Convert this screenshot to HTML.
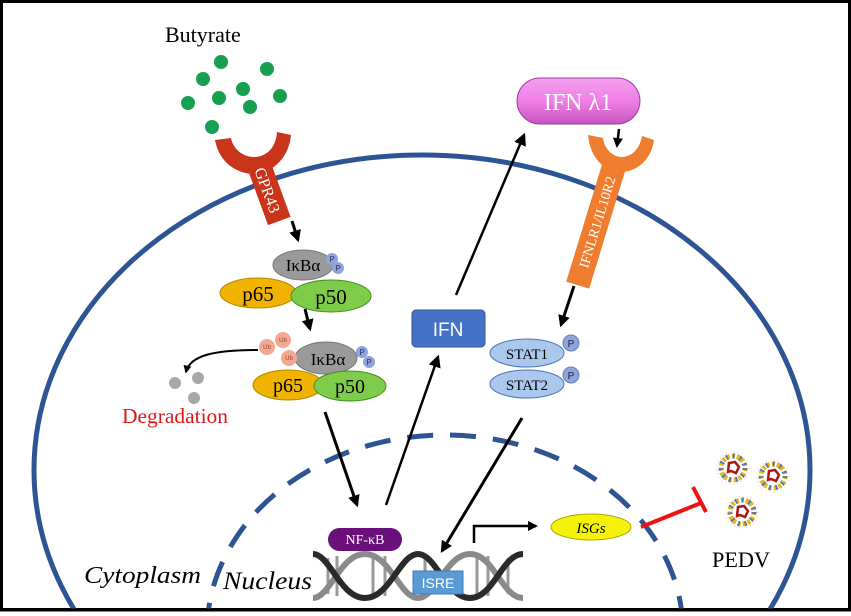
<!DOCTYPE html>
<html><head><meta charset="utf-8"><style>
html,body{margin:0;padding:0;background:#fff;width:851px;height:616px;overflow:hidden}
svg{display:block;overflow:hidden}
.s{font-family:"Liberation Serif",serif}
.a{font-family:"Liberation Sans",sans-serif}
</style></head><body>
<svg width="851" height="616" viewBox="0 0 851 616" xmlns="http://www.w3.org/2000/svg">
<defs>
<clipPath id="cp"><rect x="0" y="0" width="851" height="610"/></clipPath>
<marker id="ah" viewBox="0 0 10 10" refX="8" refY="5" markerWidth="5" markerHeight="5" orient="auto"><path d="M0,0 L10,5 L0,10 z" fill="#000"/></marker>
<marker id="ah2" viewBox="0 0 10 10" refX="8" refY="5" markerWidth="4" markerHeight="4" orient="auto"><path d="M0,0 L10,5 L0,10 z" fill="#000"/></marker>
<linearGradient id="pk" x1="0" y1="0" x2="0" y2="1"><stop offset="0" stop-color="#f6a0f0"/><stop offset="0.5" stop-color="#ee7fe6"/><stop offset="1" stop-color="#c855c0"/></linearGradient>
<g id="vir">
<circle r="16" fill="none" stroke="#f4c6c6" stroke-width="1" stroke-dasharray="1 3"/>
<circle r="12" fill="none" stroke="#e6b820" stroke-width="5" stroke-dasharray="3 2"/>
<circle r="12" fill="none" stroke="#5b79a8" stroke-width="5" stroke-dasharray="2 5"/>
<circle r="9" fill="#fff"/>
<path d="M-5,4 L-4,-5 L2,-6 L6,-1 L3,5 L-2,3 z" fill="none" stroke="#b01515" stroke-width="2.5"/>
</g>
</defs>
<rect x="1.5" y="1.5" width="848" height="608" fill="#fff" stroke="#000" stroke-width="3"/>
<g clip-path="url(#cp)">
<ellipse cx="422" cy="470" rx="388" ry="315" fill="none" stroke="#2e5593" stroke-width="5"/>
<ellipse cx="445" cy="632" rx="238" ry="197" fill="none" stroke="#2e5593" stroke-width="5" stroke-dasharray="26 17"/>
</g>
<line x1="0" y1="610" x2="851" y2="610" stroke="#000" stroke-width="3"/>

<text x="165" y="42" class="s" font-size="22">Butyrate</text>
<g fill="#17a050">
<circle cx="221" cy="62" r="7"/><circle cx="267" cy="69" r="7"/><circle cx="203" cy="79" r="7"/><circle cx="243" cy="89" r="7"/>
<circle cx="188" cy="103" r="7"/><circle cx="219" cy="98" r="7"/><circle cx="280" cy="96" r="7"/><circle cx="250" cy="107" r="7"/><circle cx="212" cy="127" r="7"/>
</g>
<path d="M215,140 C219,162 236,174 255,174 C274,172 289,157 291,135 L277,132 C276,148 266,157 254,157 C243,157 233,149 231,138 z" fill="#c9341a"/>
<g transform="translate(268,190) rotate(70)"><rect x="-33" y="-12" width="66" height="24" fill="#c9341a"/><text x="0" y="6" text-anchor="middle" class="s" font-size="16" fill="#fff">GPR43</text></g>
<line x1="292" y1="221" x2="298" y2="240" stroke="#000" stroke-width="3" marker-end="url(#ah2)"/>
<ellipse cx="303" cy="265" rx="30" ry="15" fill="#9a9a9a" stroke="#777"/>
<text x="303" y="271" text-anchor="middle" class="s" font-size="17">IκBα</text>
<circle cx="332" cy="259" r="6" fill="#8fa3dc"/><circle cx="338" cy="268" r="6" fill="#8fa3dc"/>
<text x="332" y="262" text-anchor="middle" class="a" font-size="8" fill="#335">P</text><text x="338" y="271" text-anchor="middle" class="a" font-size="8" fill="#335">P</text>
<ellipse cx="258" cy="293" rx="38" ry="15" fill="#f0b400" stroke="#b58800"/>
<text x="258" y="301" text-anchor="middle" class="s" font-size="21">p65</text>
<ellipse cx="331" cy="296" rx="40" ry="16" fill="#7fcc4a" stroke="#3f8f22"/>
<text x="331" y="304" text-anchor="middle" class="s" font-size="21">p50</text>
<line x1="305" y1="309" x2="310" y2="329" stroke="#000" stroke-width="3" marker-end="url(#ah2)"/>
<ellipse cx="326" cy="358" rx="31" ry="16" fill="#9a9a9a" stroke="#777"/>
<text x="328" y="365" text-anchor="middle" class="s" font-size="17">IκBα</text>
<circle cx="267" cy="347" r="8" fill="#f4a890"/><circle cx="283" cy="340" r="8" fill="#f4a890"/><circle cx="289" cy="358" r="8" fill="#f4a890"/>
<g class="a" font-size="6" fill="#844" text-anchor="middle"><text x="267" y="349">Ub</text><text x="283" y="342">Ub</text><text x="289" y="360">Ub</text></g>
<circle cx="362" cy="352" r="6" fill="#8fa3dc"/><circle cx="369" cy="362" r="6" fill="#8fa3dc"/>
<text x="362" y="355" text-anchor="middle" class="a" font-size="8" fill="#335">P</text><text x="369" y="365" text-anchor="middle" class="a" font-size="8" fill="#335">P</text>
<ellipse cx="288" cy="385" rx="35" ry="15" fill="#f0b400" stroke="#b58800"/>
<text x="288" y="392" text-anchor="middle" class="s" font-size="20">p65</text>
<ellipse cx="350" cy="386" rx="36" ry="15" fill="#7fcc4a" stroke="#3f8f22"/>
<text x="350" y="393" text-anchor="middle" class="s" font-size="20">p50</text>
<path d="M258,350 C215,350 190,355 186,372" fill="none" stroke="#000" stroke-width="2" marker-end="url(#ah2)"/>
<circle cx="175" cy="383" r="6" fill="#a8a8a8"/><circle cx="198" cy="378" r="6" fill="#a8a8a8"/><circle cx="194" cy="398" r="6" fill="#a8a8a8"/>
<text x="122" y="423" class="s" font-size="21" fill="#e01818" textLength="106" lengthAdjust="spacingAndGlyphs">Degradation</text>
<line x1="325" y1="412" x2="357" y2="505" stroke="#000" stroke-width="3" marker-end="url(#ah2)"/>
<rect x="517" y="78" width="123" height="46" rx="23" fill="url(#pk)" stroke="#a03a9a"/>
<text x="578" y="110" text-anchor="middle" class="s" font-size="24" fill="#fff">IFN λ1</text>
<line x1="456" y1="295" x2="524" y2="135" stroke="#000" stroke-width="2.5" marker-end="url(#ah)"/>
<path d="M588,135 C590,157 604,172 620,172 C640,172 652,156 654,140 L642,136 C640,148 632,157 622,157 C612,157 604,148 603,138 z" fill="#ee7d30"/>
<g transform="translate(597,222) rotate(-73)"><rect x="-66" y="-12" width="132" height="24" fill="#ee7d30"/><text x="0" y="5" text-anchor="middle" class="s" font-size="14" fill="#fff">IFNLR1/IL10R2</text></g>
<line x1="619" y1="129" x2="617" y2="146" stroke="#000" stroke-width="2.5" marker-end="url(#ah2)"/>
<line x1="574" y1="286" x2="561" y2="325" stroke="#000" stroke-width="3" marker-end="url(#ah2)"/>
<rect x="412" y="310" width="73" height="37" rx="4" fill="#4472c4" stroke="#2f5597"/>
<text x="448" y="336" text-anchor="middle" class="a" font-size="19" fill="#fff">IFN</text>
<line x1="386" y1="505" x2="438" y2="357" stroke="#000" stroke-width="2.5" marker-end="url(#ah)"/>
<ellipse cx="527" cy="353" rx="37" ry="14" fill="#a9c8ec" stroke="#4a78b0"/>
<text x="527" y="359" text-anchor="middle" class="s" font-size="15">STAT1</text>
<circle cx="571" cy="343" r="8" fill="#8fa3dc" stroke="#6a7fc0"/><text x="571" y="347" text-anchor="middle" class="a" font-size="10" fill="#223">P</text>
<ellipse cx="527" cy="384" rx="37" ry="14" fill="#a9c8ec" stroke="#4a78b0"/>
<text x="527" y="390" text-anchor="middle" class="s" font-size="15">STAT2</text>
<circle cx="571" cy="375" r="8" fill="#8fa3dc" stroke="#6a7fc0"/><text x="571" y="379" text-anchor="middle" class="a" font-size="10" fill="#223">P</text>
<line x1="522" y1="418" x2="442" y2="551" stroke="#000" stroke-width="3" marker-end="url(#ah2)"/>
<rect x="328" y="528" width="74" height="23" rx="11.5" fill="#6b0f7a"/>
<text x="365" y="544" text-anchor="middle" class="s" font-size="14" fill="#fff">NF-κB</text>
<g stroke="#9a9a9a" stroke-width="3">
<line x1="328" y1="558" x2="328" y2="594"/><line x1="337" y1="556" x2="337" y2="596"/><line x1="373" y1="556" x2="373" y2="596"/><line x1="385" y1="556" x2="385" y2="596"/><line x1="425" y1="556" x2="425" y2="596"/><line x1="477" y1="556" x2="477" y2="596"/><line x1="488" y1="556" x2="488" y2="596"/><line x1="508" y1="558" x2="508" y2="594"/>
</g>
<path d="M313,598 C330,598 340,554 365,554 C390,554 400,598 418,598 C436,598 446,554 470,554 C494,554 502,598 523,598" fill="none" stroke="#8a8a8a" stroke-width="6"/>
<path d="M313,554 C330,554 340,598 365,598 C390,598 400,554 418,554 C436,554 446,598 470,598 C494,598 502,554 523,554" fill="none" stroke="#2a2a2a" stroke-width="6"/>
<rect x="413" y="571" width="50" height="23" fill="#5b9bd5" stroke="#3d7bbf"/>
<text x="438" y="588" text-anchor="middle" class="a" font-size="14" fill="#fff">ISRE</text>
<path d="M474,543 L474,526 L536,526" fill="none" stroke="#000" stroke-width="2.5" marker-end="url(#ah2)"/>
<ellipse cx="591" cy="527" rx="40" ry="13" fill="#f5f20a" stroke="#a9a600"/>
<text x="591" y="533" text-anchor="middle" class="s" font-size="15" font-style="italic">ISGs</text>
<line x1="641" y1="527" x2="701" y2="503" stroke="#ee1111" stroke-width="4"/>
<line x1="693" y1="487" x2="706" y2="512" stroke="#ee1111" stroke-width="4"/>
<use href="#vir" x="733" y="468"/><use href="#vir" x="773" y="476"/><use href="#vir" x="742" y="512"/>
<text x="712" y="567" class="s" font-size="22" textLength="58" lengthAdjust="spacingAndGlyphs">PEDV</text>
<text x="84" y="583" class="s" font-size="24" font-style="italic" textLength="117" lengthAdjust="spacingAndGlyphs">Cytoplasm</text>
<text x="223" y="589" class="s" font-size="25" font-style="italic" textLength="89" lengthAdjust="spacingAndGlyphs">Nucleus</text>
</svg>
</body></html>
